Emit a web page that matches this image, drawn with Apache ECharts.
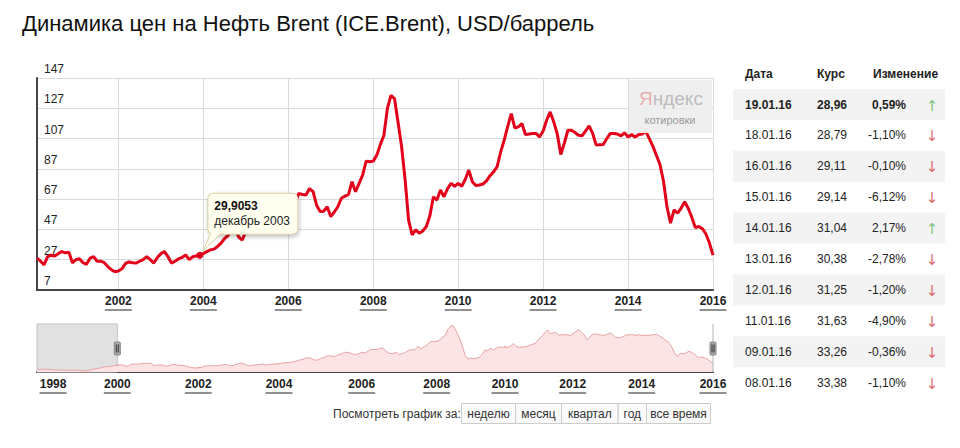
<!DOCTYPE html>
<html><head><meta charset="utf-8">
<script src="https://cdn.jsdelivr.net/npm/echarts@6/dist/echarts.min.js"></script>
<style>html,body{margin:0;padding:0;background:#fff}#c{width:960px;height:448px}</style>
</head><body><div id="c"></div>
<script>
const FONT = 'Arial, "Liberation Sans", Helvetica, sans-serif';
const titleText = 'Динамика цен на Нефть Brent (ICE.Brent), USD/баррель';

// Monthly Brent values, Feb 2000 .. Jan 2016
const firstYear = 2000, firstMonthNo = 2;
const brent2000 = [28, 26, 23.6, 29, 30, 29.5, 31, 32.4, 31.5, 32, 25];
const brent2001 = [27, 27.6, 25, 24, 28, 29, 26, 26, 25, 22.5, 20.4, 19];
const brent2002 = [19.5, 21, 24.5, 25.5, 25, 24.8, 26, 27, 29, 27, 24.8, 28.5];
const brent2003 = [31, 32.4, 29, 24.8, 26, 27.6, 28.5, 30.2, 27, 29, 29.5, 29.9053];
const brent2004 = [31, 32.4, 33.5, 34, 35.7, 38, 41, 43, 46.7, 47, 42, 40];
const brent2005 = [45.6, 47.5, 53, 52, 50, 55, 57, 62, 62, 59, 55, 58];
const brent2006 = [62, 60, 65, 70.8, 70, 69.7, 74, 72, 63, 58.8, 59, 62];
const brent2007 = [55.5, 58.5, 62, 67.6, 69, 70, 78.5, 71.9, 77.4, 82.9, 92.1, 91.7];
const brent2008 = [92.1, 96, 103, 109, 126.8, 135.6, 133.4, 118, 102, 80, 53, 43.4];
const brent2009 = [46.7, 44.5, 46, 48.9, 56, 68.6, 66.4, 73, 68.6, 74, 77.4, 75.5];
const brent2010 = [77.4, 75.5, 80, 86.2, 78.5, 76, 76.3, 77, 79, 82.5, 85, 88.4];
const brent2011 = [98, 106, 115, 123.5, 114, 114.7, 116.9, 109.7, 110, 110.4, 110.4, 108.1];
const brent2012 = [112, 119.1, 124.6, 118, 110, 96.5, 104, 112.5, 112.5, 111, 109.2, 108.8];
const brent2013 = [112, 115.4, 110.4, 102.7, 103, 103.1, 107, 110.4, 110.4, 110, 108.8, 110.8];
const brent2014 = [108.1, 109.6, 108.1, 109.6, 110, 111.9, 107, 102, 96, 90, 79, 62];
const brent2015 = [51.2, 59.9, 57.7, 61, 65.3, 61, 55, 48.2, 48.9, 47.5, 44, 38];
const brent2016 = [30];

// Navigator-only history read from the overview strip, Jul 1997 .. Jan 2000
const navEarlyYear = 1997, navEarlyMonthNo = 7;
const navEarly = [15, 15, 15.5, 16, 15, 14.5,
  14, 13.5, 13, 13.5, 13.5, 12.5, 12.5, 12.5, 13.5, 13, 12, 11,
  12, 11.5, 13.5, 16, 17, 18, 20, 21.5, 23, 22.5, 24.5, 25.5,
  26.5];

const yMin = 7, yMax = 147, yStep = 20;
const mainYearTicks = [2002, 2004, 2006, 2008, 2010, 2012, 2014, 2016];
const navYearTicks = [1998, 2000, 2002, 2004, 2006, 2008, 2010, 2012, 2014, 2016];
const navSegYears = [1997.5, 2000, 2002, 2004, 2006, 2008, 2010, 2012, 2014, 2016];
const monthNamesRu = ['январь','февраль','март','апрель','май','июнь','июль','август','сентябрь','октябрь','ноябрь','декабрь'];
const highlightMonth = '2003-12';

const tableHeader = ['Дата', 'Курс', 'Изменение'];
const tableDates = ['19.01.16','18.01.16','16.01.16','15.01.16','14.01.16','13.01.16','12.01.16','11.01.16','09.01.16','08.01.16'];
const tableRates = [28.96, 28.79, 29.11, 29.14, 31.04, 30.38, 31.25, 31.63, 33.26, 33.38];
const tableChanges = [0.59, -1.10, -0.10, -6.12, 2.17, -2.78, -1.20, -4.90, -0.36, -1.10];

const periodLabel = 'Посмотреть график за:';
const periodButtons = ['неделю', 'месяц', 'квартал', 'год', 'все время'];

// ---------- build ----------
const brentValues = [].concat(brent2000, brent2001, brent2002, brent2003, brent2004, brent2005,
  brent2006, brent2007, brent2008, brent2009, brent2010, brent2011, brent2012, brent2013,
  brent2014, brent2015, brent2016);
const pad = n => (n < 10 ? '0' : '') + n;
const months = [];
const navPoints = [];
(function () {
  let y = navEarlyYear, m = navEarlyMonthNo;
  navEarly.forEach(v => { navPoints.push([y + (m - 1) / 12, v]); m++; if (m > 12) { m = 1; y++; } });
  y = firstYear; m = firstMonthNo;
  brentValues.forEach(v => { months.push(y + '-' + pad(m)); navPoints.push([y + (m - 1) / 12, v]); m++; if (m > 12) { m = 1; y++; } });
})();
const isMainTick = v => v.slice(5) === '01' && mainYearTicks.indexOf(+v.slice(0, 4)) >= 0;
const fmtNum = (v, d) => v.toFixed(d).replace('.', ',');

const yearRich = {
  y: { fontFamily: FONT, fontSize: 12, fontWeight: 'bold', color: '#222', lineHeight: 14 },
  u: { width: 27, height: 1, fontSize: 1, lineHeight: 4, backgroundColor: '#222' }
};
const yearFmt = y => '{y|' + y + '}\n{u| }';

// layout
const MAIN = { left: 37, top: 78, width: 676, height: 212 };
const NAV = { top: 324, height: 48 };
const navSegPx = [37, 117.3, 198.3, 279, 361.7, 436.7, 505, 572.7, 641.7, 713];

const grids = [{ left: MAIN.left, top: MAIN.top, width: MAIN.width, height: MAIN.height, show: false }];
const xAxes = [{
  type: 'category', gridIndex: 0, data: months, boundaryGap: false,
  axisLine: { lineStyle: { color: '#444', width: 2 } },
  axisTick: { show: false },
  splitLine: { show: true, interval: (i, v) => isMainTick(v), lineStyle: { color: '#dadada', width: 1 } },
  axisLabel: { interval: (i, v) => isMainTick(v), formatter: v => yearFmt(v.slice(0, 4)), rich: yearRich, margin: 4 }
}];
const yAxes = [{
  type: 'value', gridIndex: 0, min: yMin, max: yMax, interval: yStep,
  axisLine: { show: true, lineStyle: { color: '#444', width: 2 } },
  axisTick: { show: false },
  splitLine: { lineStyle: { color: '#dadada', width: 1 } },
  axisLabel: { inside: true, margin: 7, verticalAlign: 'bottom', padding: [0, 0, 3, 0],
    color: '#222', fontSize: 12, fontFamily: FONT }
}];
const hlIndex = months.indexOf(highlightMonth);
const series = [{
  type: 'line', xAxisIndex: 0, yAxisIndex: 0, data: brentValues, showSymbol: false,
  lineStyle: { color: '#e2001a', width: 3 }, itemStyle: { color: '#e2001a' }, z: 3,
  markPoint: {
    symbol: 'circle', symbolSize: 7, itemStyle: { color: '#e2001a' }, z: 10,
    data: [{ coord: [highlightMonth, brentValues[hlIndex]], value: brentValues[hlIndex] }],
    label: {
      show: true, position: [12, -58],
      formatter: p => '{v|' + String(p.value).replace('.', ',') + '}\n{d|' +
        monthNamesRu[+highlightMonth.slice(5) - 1] + ' ' + highlightMonth.slice(0, 4) + '}',
      backgroundColor: '#fffff0', borderColor: '#d8cfa2', borderWidth: 1, borderRadius: 5,
      padding: [5, 6, 5, 6], width: 77,
      shadowColor: 'rgba(0,0,0,0.25)', shadowBlur: 4, shadowOffsetX: 1, shadowOffsetY: 2,
      rich: {
        v: { fontFamily: FONT, fontSize: 12, fontWeight: 'bold', color: '#111', lineHeight: 15 },
        d: { fontFamily: FONT, fontSize: 12, color: '#222', lineHeight: 15 }
      }
    }
  }
}];

for (let k = 0; k < navSegYears.length - 1; k++) {
  const a = navSegYears[k], b = navSegYears[k + 1];
  const last = k === navSegYears.length - 2;
  grids.push({ left: navSegPx[k], width: navSegPx[k + 1] - navSegPx[k], top: NAV.top, height: NAV.height, show: false });
  xAxes.push({
    type: 'value', gridIndex: k + 1, min: a, max: b,
    axisLine: { lineStyle: { color: '#444', width: 2 } },
    axisTick: { show: false }, splitLine: { show: false },
    axisLabel: {
      customValues: navYearTicks.filter(t => t >= a && (t < b || (last && t === b))),
      formatter: v => yearFmt(Math.round(v)), rich: yearRich, margin: 5,
      showMinLabel: true, showMaxLabel: true
    }
  });
  yAxes.push({ type: 'value', gridIndex: k + 1, min: 8, max: 140, show: false });
  const s = {
    type: 'line', xAxisIndex: k + 1, yAxisIndex: k + 1, showSymbol: false, clip: true,
    data: navPoints.filter(p => p[0] >= a - 0.2 && p[0] <= b + 0.2),
    lineStyle: { color: '#e6a3a3', width: 1 }, areaStyle: { color: '#fde4e4', opacity: 1 }, silent: true
  };
  if (k === 0) {
    s.markArea = { silent: true, itemStyle: { color: 'rgba(222,222,222,0.9)', borderColor: '#c4c4c4', borderWidth: 1 },
      data: [[{ xAxis: a }, { xAxis: b }]] };
  }
  series.push(s);
}

const chart = echarts.init(document.getElementById('c'), null, { renderer: 'svg' });
chart.setOption({
  animation: false,
  title: { text: titleText, left: 17, top: 7, textStyle: { fontFamily: FONT, fontSize: 22, fontWeight: 'normal', color: '#111' } },
  grid: grids, xAxis: xAxes, yAxis: yAxes, series: series
});

// ---------- graphics: tooltip tail, navigator handles, logo, table, buttons ----------
const els = [];
const hp = chart.convertToPixel({ xAxisIndex: 0, yAxisIndex: 0 }, [highlightMonth, brentValues[hlIndex]]);
els.push({ type: 'polygon', z: 50, shape: { points: [[hp[0] + 3, hp[1] - 4], [hp[0] + 11, hp[1] - 25], [hp[0] + 24, hp[1] - 25]] },
  style: { fill: '#fffff0' } });
els.push({ type: 'polyline', z: 51, shape: { points: [[hp[0] + 11, hp[1] - 22.5], [hp[0] + 3, hp[1] - 4], [hp[0] + 22, hp[1] - 22.5]] },
  style: { stroke: '#d8cfa2', lineWidth: 1, fill: null } });

const selL = chart.convertToPixel({ xAxisIndex: 1, yAxisIndex: 1 }, [2000, 8]);
const selR = chart.convertToPixel({ xAxisIndex: 9, yAxisIndex: 9 }, [2016, 140]);
els.push({ type: 'line', z: 20, shape: { x1: selR[0], y1: NAV.top, x2: selR[0], y2: NAV.top + NAV.height }, style: { stroke: '#b5b5b5', lineWidth: 1 } });
[selL[0], selR[0]].forEach(x => {
  els.push({ type: 'rect', z: 21, shape: { x: x - 3, y: 342, width: 6, height: 13, r: 1 }, style: { fill: '#a8a8a8', stroke: '#888', lineWidth: 1 } });
  els.push({ type: 'line', z: 22, shape: { x1: x - 1, y1: 344.5, x2: x - 1, y2: 352.5 }, style: { stroke: '#333', lineWidth: 1 } });
  els.push({ type: 'line', z: 22, shape: { x1: x + 1, y1: 344.5, x2: x + 1, y2: 352.5 }, style: { stroke: '#333', lineWidth: 1 } });
});

// Yandex watermark
els.push({ type: 'rect', z: 30, shape: { x: 629, y: 80, width: 83, height: 53 }, style: { fill: 'rgba(238,238,238,0.92)' } });
els.push({ type: 'text', z: 31, style: { x: 639, y: 98, text: '{r|Я}{g|ндекс}', textVerticalAlign: 'middle',
  rich: { r: { fontFamily: FONT, fontSize: 19, fill: '#e8b0b0' }, g: { fontFamily: FONT, fontSize: 19, fill: '#bcbcbc' } } } });
els.push({ type: 'text', z: 31, style: { x: 670, y: 120, text: 'котировки', textAlign: 'center', textVerticalAlign: 'middle',
  font: '11px ' + FONT, fill: '#9a9a9a' } });

// table
const colX = [745, 817, 873];
tableHeader.forEach((h, i) => els.push({ type: 'text', style: { x: colX[i], y: 73.5, text: h, font: 'bold 12px ' + FONT, fill: '#222', textVerticalAlign: 'middle' } }));
const rowY0 = 104.5, rowH = 30.9;
tableDates.forEach((d, i) => {
  const cy = rowY0 + i * rowH;
  const w = i === 0 ? 'bold ' : '';
  if (i % 2 === 0) els.push({ type: 'rect', z: 0, shape: { x: 733, y: cy - 15.5, width: 212, height: 31 }, style: { fill: '#f3f3f3' } });
  els.push({ type: 'text', z: 2, style: { x: 745, y: cy, text: d, font: w + '12px ' + FONT, fill: '#222', textVerticalAlign: 'middle' } });
  els.push({ type: 'text', z: 2, style: { x: 817, y: cy, text: fmtNum(tableRates[i], 2), font: w + '12px ' + FONT, fill: '#222', textVerticalAlign: 'middle' } });
  els.push({ type: 'text', z: 2, style: { x: 906, y: cy, text: fmtNum(tableChanges[i], 2) + '%', font: w + '12px ' + FONT, fill: '#222', textAlign: 'right', textVerticalAlign: 'middle' } });
  const up = tableChanges[i] >= 0;
  els.push({ type: 'text', z: 2, style: { x: 932, y: cy + 1, text: up ? '↑' : '↓', font: '15px "DejaVu Sans", ' + FONT, fill: up ? '#7cc47c' : '#d97070', textAlign: 'center', textVerticalAlign: 'middle' } });
});

// period buttons
els.push({ type: 'text', style: { x: 333, y: 414, text: periodLabel, font: '12px ' + FONT, fill: '#333', textVerticalAlign: 'middle' } });
const btnW = [54, 46, 56.7, 28.3, 64];
let bx = 461;
periodButtons.forEach((b, i) => {
  els.push({ type: 'rect', shape: { x: bx + 0.5, y: 403.5, width: btnW[i], height: 20 }, style: { fill: '#fafafa', stroke: '#cccccc', lineWidth: 1 } });
  els.push({ type: 'text', z: 2, style: { x: bx + btnW[i] / 2 + 0.5, y: 414, text: b, font: '12px ' + FONT, fill: '#333', textAlign: 'center', textVerticalAlign: 'middle' } });
  bx += btnW[i];
});

chart.setOption({ graphic: { elements: els } });
</script></body></html>
